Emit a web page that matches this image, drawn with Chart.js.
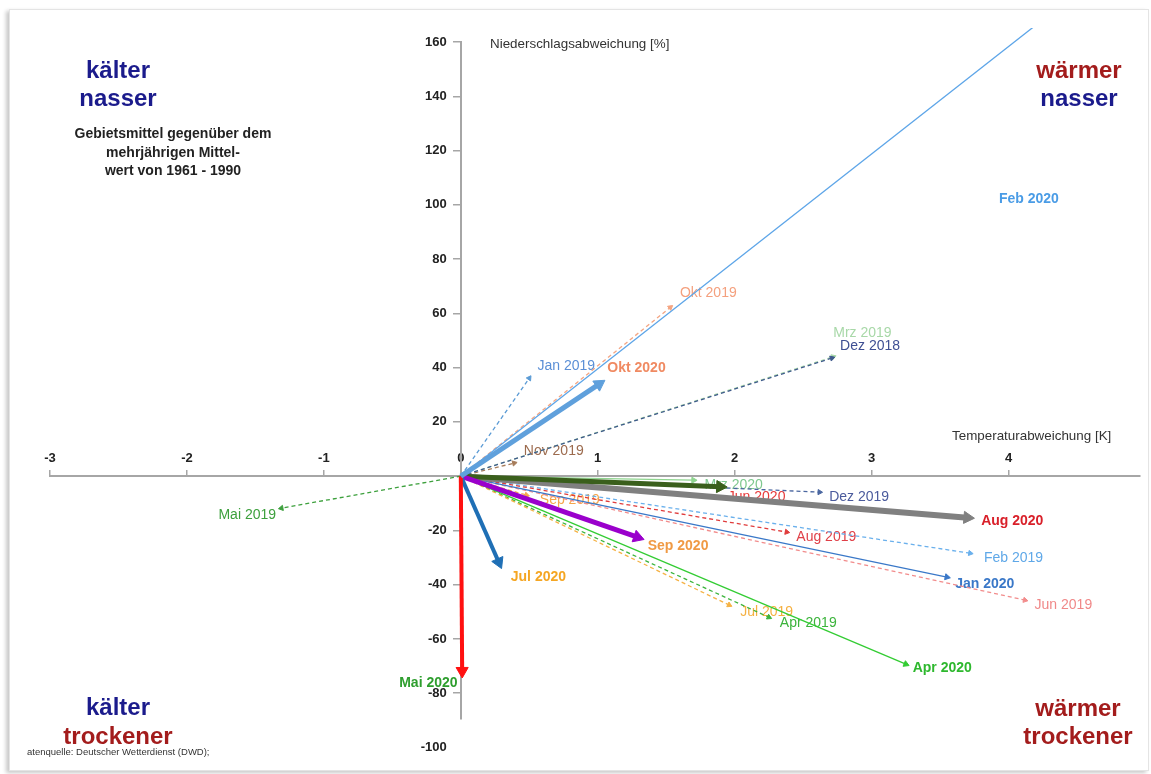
<!DOCTYPE html>
<html><head><meta charset="utf-8">
<script src="https://cdn.jsdelivr.net/npm/chart.js@4.4.1/dist/chart.umd.min.js"></script>
<style>
html,body{margin:0;padding:0;background:#fff;}
#wrap{position:relative;width:1151px;height:774px;overflow:hidden;background:#fff;}
#frame{position:absolute;left:9px;top:9px;width:1138px;height:760px;border:1px solid #e4e4e4;box-shadow:-3px 2px 4px rgba(0,0,0,0.22);background:#fff;}
canvas{position:absolute;left:0;top:0;}
</style></head><body>
<div id="wrap"><div id="frame"></div><canvas id="c" width="1151" height="774"></canvas></div>
<script>
// ---- data (temperature deviation [K], precipitation deviation [%]) ----
const months  = ['Feb 2020','Okt 2019','Jan 2019','Okt 2020','Dez 2018','Mrz 2019','Nov 2019','Mai 2019','Mai 2020','Jul 2020','Sep 2020','Sep 2019','Mrz 2020','Jun 2020','Dez 2019','Aug 2020','Aug 2019','Feb 2019','Jan 2020','Jun 2019','Jul 2019','Apr 2019','Apr 2020'];
const tempDev = [4.8, 1.53, 0.50, 1.01, 2.71, 2.72, 0.39, -1.31, 0.01, 0.277, 1.29, 0.48, 1.70, 1.894, 2.62, 3.70, 2.38, 3.72, 3.55, 4.12, 1.96, 2.25, 3.25];
const precDev = [190, 62.2, 36.1, 33.9, 43.5, 44.0, 4.8, -11.8, -71.8, -31.7, -22.5, -7.0, -1.5, -3.9, -5.9, -15.3, -20.6, -28.4, -37.2, -45.7, -47.5, -52.0, -69.3];
// label anchor (same units as data)
const labelT  = [3.93, 1.60, 0.56, 1.07, 2.77, 2.72, 0.46, -1.77, -0.45, 0.365, 1.365, 0.577, 1.78, 1.95, 2.69, 3.80, 2.45, 3.82, 3.61, 4.19, 2.04, 2.33, 3.30];
const labelP  = [102.1, 67.5, 40.5, 39.8, 47.9, 52.7, 9.2, -14.4, -76.3, -37.2, -25.8, -8.8, -3.3, -7.7, -7.7, -16.6, -22.5, -30.2, -39.8, -47.5, -50.1, -54.2, -70.8];
const kinds   = ['thin','dash','dash','thick','dash','dash','dash','dash','thick','thick','thick','dash','thin','thick','dash','thick','dash','dash','thin','dash','dash','dash','thin'];
const boldLbl = [true,false,false,true,false,false,false,false,true,true,true,false,false,false,false,true,false,false,true,false,false,false,true];
const lineColors  = ['#5DA5E8','#F4A582','#5B9BD5','#5FA0DC','#3F5A8C','#A9D8A9','#A67C5A','#3DA03D','#FF1010','#1F6FB5','#9A00CC','#F5A54A','#8FD48F','#3A5F1C','#4A66A0','#808080','#E03C3C','#6AB0EC','#3A78C8','#F28C8C','#F5B245','#3CB43C','#33CC33'];
const labelColors = ['#4A9CE6','#F4A07E','#5B8FD6','#F08A62','#3E4F93','#A8D8A8','#9C6B4E','#3DA03D','#2E9E2E','#F5A623','#F09A44','#F5A54A','#7FC88F','#E83A3A','#4A5A9C','#D9202A','#E04048','#5FA8E8','#3A78C8','#F08888','#F5B040','#3CB43C','#2EB82E'];
const thickWidth  = {'Okt 2020':5,'Mai 2020':4,'Jul 2020':4,'Sep 2020':5,'Jun 2020':5,'Aug 2020':6};
const xTicks = [-3,-2,-1,0,1,2,3,4];
const yTicks = [-100,-80,-60,-40,-20,0,20,40,60,80,100,120,140,160];

const FONT = "Arial, 'Liberation Sans', sans-serif";
const kindStyle = {
  thick: {w:5, dash:[], r:7, order:0},
  thin:  {w:1.3, dash:[], r:3.5, order:1},
  dash:  {w:1.3, dash:[4,3], r:3, order:2}
};

function arrowRotation(ctx){
  if (ctx.type !== 'data' || !ctx.raw) return 0;
  const ch = ctx.chart, xs = ch.scales.x, ys = ch.scales.y;
  const dx = xs.getPixelForValue(ctx.raw.x) - xs.getPixelForValue(0);
  const dy = ys.getPixelForValue(ctx.raw.y) - ys.getPixelForValue(0);
  return Math.atan2(dy, dx) * 180 / Math.PI + 90;
}

const datasets = months.map((m, i) => {
  const k = kindStyle[kinds[i]];
  const w = kinds[i] === 'thick' ? (thickWidth[m] || k.w) : k.w;
  return {
    label: m,
    data: [{x:0, y:0}, {x: tempDev[i], y: precDev[i]}],
    showLine: true,
    borderColor: lineColors[i],
    backgroundColor: lineColors[i],
    borderWidth: w,
    borderDash: k.dash,
    borderCapStyle: 'butt',
    pointRadius: [0, k.r],
    pointHoverRadius: [0, k.r],
    pointStyle: 'triangle',
    pointBackgroundColor: lineColors[i],
    pointBorderColor: lineColors[i],
    pointBorderWidth: 1,
    pointRotation: arrowRotation,
    order: k.order,
    clip: {left: 5, top: 14, right: 5, bottom: 5}
  };
});

const textPlugin = {
  id: 'texts',
  beforeDatasetsDraw(chart) {
    const c = chart.ctx, xs = chart.scales.x, ys = chart.scales.y;
    c.save();
    // y tick labels
    c.font = 'bold 13px ' + FONT; c.fillStyle = '#222'; c.textAlign = 'right'; c.textBaseline = 'middle';
    const ax = xs.getPixelForValue(0);
    yTicks.forEach(v => { if (v !== 0) c.fillText(String(v), ax - 14, ys.getPixelForValue(v)); });
    // vector labels
    c.textAlign = 'left'; c.textBaseline = 'middle';
    months.forEach((m, i) => {
      c.font = (boldLbl[i] ? 'bold 14px ' : '14px ') + FONT;
      c.fillStyle = labelColors[i];
      c.fillText(m, xs.getPixelForValue(labelT[i]), ys.getPixelForValue(labelP[i]));
    });
    // axis titles
    c.font = '13.4px ' + FONT; c.fillStyle = '#333'; c.textBaseline = 'middle';
    c.fillText('Niederschlagsabweichung [%]', 490, 44);
    c.fillText('Temperaturabweichung [K]', 952, 436);
    // quadrant texts
    c.textAlign = 'center'; c.textBaseline = 'alphabetic';
    const navy = '#1B1B8C', dred = '#A31C1C';
    c.font = 'bold 24px ' + FONT;
    c.fillStyle = navy; c.fillText('kälter', 118, 78); c.fillText('nasser', 118, 106);
    c.fillStyle = dred; c.fillText('wärmer', 1079, 78);
    c.fillStyle = navy; c.fillText('nasser', 1079, 106);
    c.fillStyle = navy; c.fillText('kälter', 118, 715);
    c.fillStyle = dred; c.fillText('trockener', 118, 744);
    c.fillStyle = dred; c.fillText('wärmer', 1078, 716); c.fillText('trockener', 1078, 744);
    c.font = 'bold 14px ' + FONT; c.fillStyle = '#222';
    c.fillText('Gebietsmittel gegenüber dem', 173, 138);
    c.fillText('mehrjährigen Mittel-', 173, 157);
    c.fillText('wert von 1961 - 1990', 173, 175);
    c.textAlign = 'left'; c.font = '9.5px ' + FONT; c.fillStyle = '#333';
    c.fillText('atenquelle: Deutscher Wetterdienst (DWD);', 27, 755);
    c.restore();
  }
};

new Chart(document.getElementById('c'), {
  type: 'scatter',
  data: { datasets },
  options: {
    responsive: false,
    animation: false,
    devicePixelRatio: 1,
    layout: { padding: { left: 50, right: 11, top: 42, bottom: 55 } },
    plugins: { legend: { display: false }, tooltip: { enabled: false } },
    scales: {
      x: {
        type: 'linear', min: -3, max: 4.96, position: { y: 0 },
        afterBuildTicks: s => { s.ticks = xTicks.map(v => ({ value: v })); },
        border: { display: true, color: '#A6A6A6', width: 2 },
        grid: { display: true, drawOnChartArea: false, drawTicks: true, tickLength: -7, color: '#A6A6A6', lineWidth: 1.5 },
        ticks: { padding: -19, color: '#222', font: { family: FONT, size: 13, weight: 'bold' }, maxRotation: 0, autoSkip: false }
      },
      y: {
        type: 'linear', min: -89.5, max: 160, position: { x: 0 },
        afterBuildTicks: s => { s.ticks = yTicks.filter(v => v >= s.min && v <= s.max).map(v => ({ value: v })); },
        border: { display: true, color: '#A6A6A6', width: 2 },
        grid: { display: true, drawOnChartArea: false, drawTicks: true, tickLength: 7, color: '#A6A6A6', lineWidth: 1.5 },
        ticks: { display: false }
      }
    }
  },
  plugins: [textPlugin]
});
</script>
</body></html>
